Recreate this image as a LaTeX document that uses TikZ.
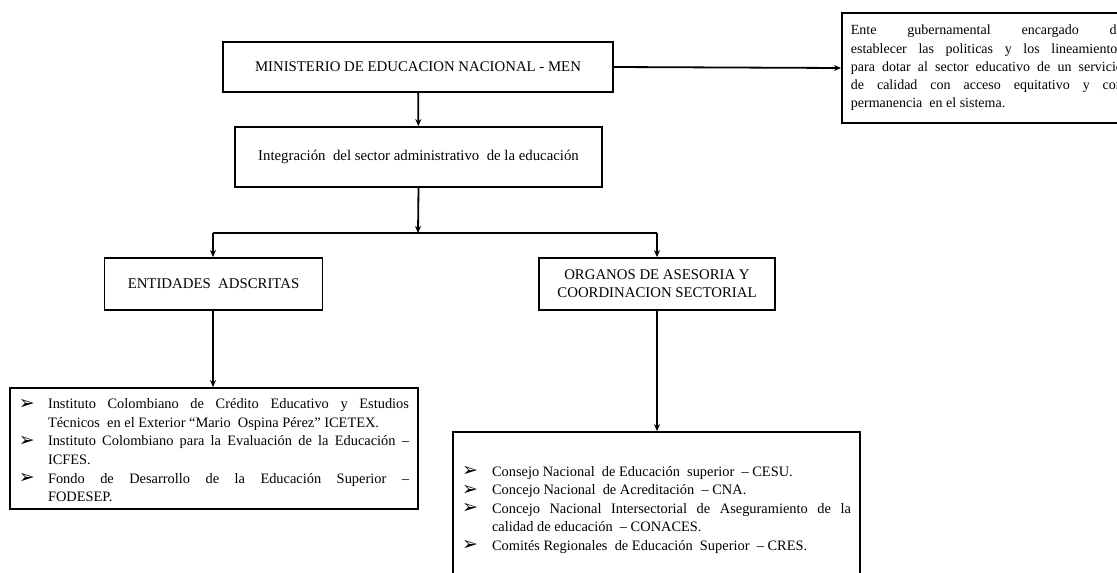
\documentclass[tikz,border=0pt]{standalone}
\usepackage{fontspec}
\setmainfont{Liberation Serif}
\newfontfamily\bulfont{DejaVu Sans}
\usetikzlibrary{arrows.meta}
\newcommand\myitem[2]{\par\noindent\hangindent=#1\hangafter=1\makebox[#1][l]{\raisebox{-0.5pt}{\bulfont\fontsize{19}{19}\selectfont ➢}}#2}
\newcommand\padbottom[1]{\par\nointerlineskip\hbox{\rule{0pt}{#1}}}
\begin{document}
\begin{tikzpicture}[x=1pt,y=-1pt,
 box/.style={draw, line width=1.8pt, rectangle, inner sep=0pt, align=center, font=\fontsize{14.8}{18}\selectfont},
 listbox/.style={draw, line width=1.8pt, rectangle, inner xsep=9pt, inner ysep=0pt, align=justify, font=\fontsize{14.4}{18.6}\selectfont},
 arr/.style={-{Stealth[length=7pt,width=6pt]}, line width=1.8pt},
 ln/.style={line width=1.8pt}]
\useasboundingbox (0,0) rectangle (1117,573);
\clip (0,0) rectangle (1117,573);

\node[box, minimum width=390pt, minimum height=50pt] (men) at (418,67) {MINISTERIO DE EDUCACION NACIONAL - MEN};
\node[box, minimum width=367pt, minimum height=60pt] (integ) at (418.5,157) {Integración\ \ del sector administrativo\ \ de la educación};
\node[box, anchor=west, inner xsep=9pt, text width=272pt, minimum height=110pt, align=justify, font=\fontsize{14}{18.3}\selectfont] (ente) at (841,68)
 {Ente gubernamental encargado de\linebreak establecer las politicas y los lineamientos\linebreak para dotar al sector educativo de un servicio\linebreak de calidad con acceso equitativo y con\linebreak permanencia\ \ en el sistema.};
\node[box, minimum width=218pt, minimum height=52pt] (ent) at (213.5,284) {ENTIDADES\ \ ADSCRITAS};
\node[box, minimum width=236pt, minimum height=52pt] (org) at (657,284) {ORGANOS DE ASESORIA Y\\COORDINACION SECTORIAL};
\node[listbox, text width=390pt, minimum height=121pt] (llist) at (214,448.5)
 {\myitem{29pt}{Instituto Colombiano de Crédito Educativo y Estudios\linebreak Técnicos\ \ en el Exterior “Mario\ \ Ospina Pérez” ICETEX.}
  \myitem{29pt}{Instituto Colombiano para la Evaluación de la Educación –\linebreak ICFES.}
  \myitem{29pt}{Fondo de Desarrollo de la Educación Superior –\linebreak FODESEP.}\padbottom{5pt}};
\node[listbox, text width=389pt, minimum height=156pt] (rlist) at (656.5,510)
 {\myitem{30pt}{Consejo Nacional\ \ de Educación\ \ superior\ \ – CESU.}
  \myitem{30pt}{Concejo Nacional\ \ de Acreditación\ \ – CNA.}
  \myitem{30pt}{Concejo Nacional Intersectorial de Aseguramiento de la\linebreak calidad de educación\ \ – CONACES.}
  \myitem{30pt}{Comités Regionales\ \ de Educación\ \ Superior\ \ – CRES.}\padbottom{9pt}};

\coordinate (j) at (418,233);
\coordinate (jl) at (213,233);
\coordinate (jr) at (657,233);
\draw[arr] (men) -- (integ);
\draw[arr] (men.east) -- (ente.west);
\draw[arr] (integ.south) -- (j);
\draw[ln] (jl) -- (jr);
\draw[arr] (jl) -- (jl |- ent.north);
\draw[arr] (jr) -- (jr |- org.north);
\draw[arr] (ent.south -| jl) -- (jl |- llist.north);
\draw[arr] (org.south -| jr) -- (jr |- rlist.north);
\end{tikzpicture}
\end{document}
